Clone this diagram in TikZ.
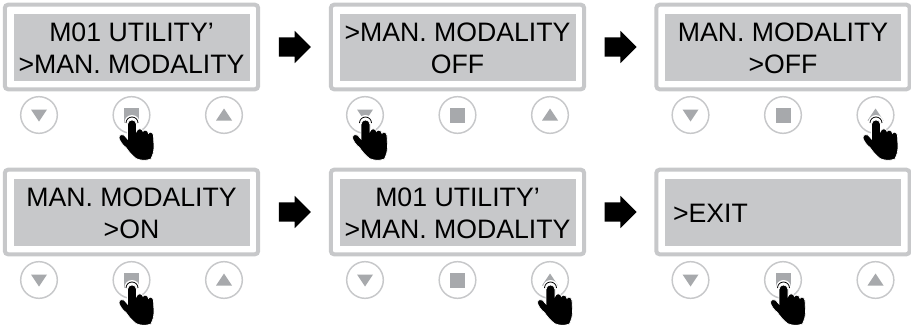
\documentclass[tikz,border=0pt]{standalone}
\usepackage{fontspec}
\setmainfont{Liberation Sans}
\usetikzlibrary{shapes.arrows,calc}
\definecolor{panelgray}{HTML}{C7C8CA}
\definecolor{glyphgray}{HTML}{A7A9AC}
\tikzset{
  px/.style={x=0.75pt,y=-0.75pt},
  panelframe/.style={draw=panelgray,fill=white,line width=3pt,rounded corners=2.5pt,minimum width=190pt,minimum height=63.5pt,inner sep=0pt},
  screen/.style={fill=panelgray,minimum width=177pt,minimum height=50.25pt,inner sep=0pt},
  screentext/.style={font=\fontsize{20}{24}\selectfont,align=center,inner sep=0pt,text=black},
  keyring/.style={circle,draw=panelgray,line width=1.1pt,fill=white,minimum size=27.5pt,inner sep=0pt},
  keyglyph/.style={fill=glyphgray},
  stepsarrow/.style={single arrow,fill=black,minimum width=24pt,minimum height=24pt,inner sep=7pt,single arrow head extend=4.9pt,shape border rotate=0},
}
% #1 name, #2 x, #3 y, #4 text
\newcommand{\lcdunit}[4]{%
  \node[panelframe] (#1) at (#2,#3) {};
  \node[screen] (#1s) at (#1.center) {};
  \node[screentext] (#1t) at ($(#1.center)+(0,1)$) {#4};
  \node[keyring] (#1a) at ($(#1.center)+(-92.5,68)$) {};
  \node[keyring] (#1b) at ($(#1.center)+(0,68)$) {};
  \node[keyring] (#1c) at ($(#1.center)+(92.5,68)$) {};
  \fill[keyglyph] ($(#1a)+(-8,-5.5)$) -- ($(#1a)+(8,-5.5)$) -- ($(#1a)+(0,6.5)$) -- cycle;
  \fill[keyglyph] ($(#1b)+(-7.5,-7.5)$) rectangle ($(#1b)+(7.5,7.5)$);
  \fill[keyglyph] ($(#1c)+(-8,5.5)$) -- ($(#1c)+(8,5.5)$) -- ($(#1c)+(0,-6.5)$) -- cycle;
}
% hand on key node #1
\newcommand{\handon}[1]{%
  \begin{scope}[shift={($(#1)+(0.5,7.5)$)},x=0.75pt,y=-0.75pt]
    \fill[white] (0,0) circle (7.5);
    \draw[black,line width=0.6pt] (-6,0.5) arc[start angle=180,end angle=0,radius=6,x radius=6,y radius=-6];
    \fill[black,draw=white,line width=0.5pt]
      (-4.5,2) .. controls (-4.5,-4) and (4.5,-4) .. (4.5,2)
      -- (4.5,9) .. controls (5,5.5) and (10.5,5.5) .. (11,9)
      .. controls (11.5,7) and (16,7) .. (16.5,11)
      .. controls (17,9) and (21,9) .. (21.5,13)
      -- (22,24) .. controls (22,30) and (20.5,33) .. (19,36.5)
      .. controls (14,38.5) and (8,38) .. (4,36)
      .. controls (-1,32) and (-4,28) .. (-6,25)
      .. controls (-9,23) and (-12,19) .. (-13,15.5)
      .. controls (-13,12) and (-10,11.5) .. (-8,12.5)
      -- (-4.5,16.5) -- cycle;
  \end{scope}
}
\begin{document}
\begin{tikzpicture}[px]
\useasboundingbox (0,0) rectangle (911,325);
\lcdunit{pa}{131.5}{47}{M01 UTILITY’\\>MAN. MODALITY}
\lcdunit{pb}{457.5}{47}{>MAN. MODALITY\\OFF}
\lcdunit{pc}{783}{47}{MAN. MODALITY\\>OFF}
\lcdunit{pd}{131.5}{212}{MAN. MODALITY\\>ON}
\lcdunit{pe}{457.5}{212}{M01 UTILITY’\\>MAN. MODALITY}
\lcdunit{pf}{783}{212}{\phantom{X}}
\node[screentext,anchor=west] (pftxt) at ($(pfs.west)+(8,1)$) {>EXIT};
\node[stepsarrow] (ab) at ($(pa.east)!.5!(pb.west)+(-4.5,0)$) {};
\node[stepsarrow] (bc) at ($(pb.east)!.5!(pc.west)+(-4.5,0)$) {};
\node[stepsarrow] (de) at ($(pd.east)!.5!(pe.west)+(-4.5,0)$) {};
\node[stepsarrow] (ef) at ($(pe.east)!.5!(pf.west)+(-4.5,0)$) {};
\handon{pab}
\handon{pba}
\handon{pcc}
\handon{pdb}
\handon{pec}
\handon{pfb}
\end{tikzpicture}
\end{document}
